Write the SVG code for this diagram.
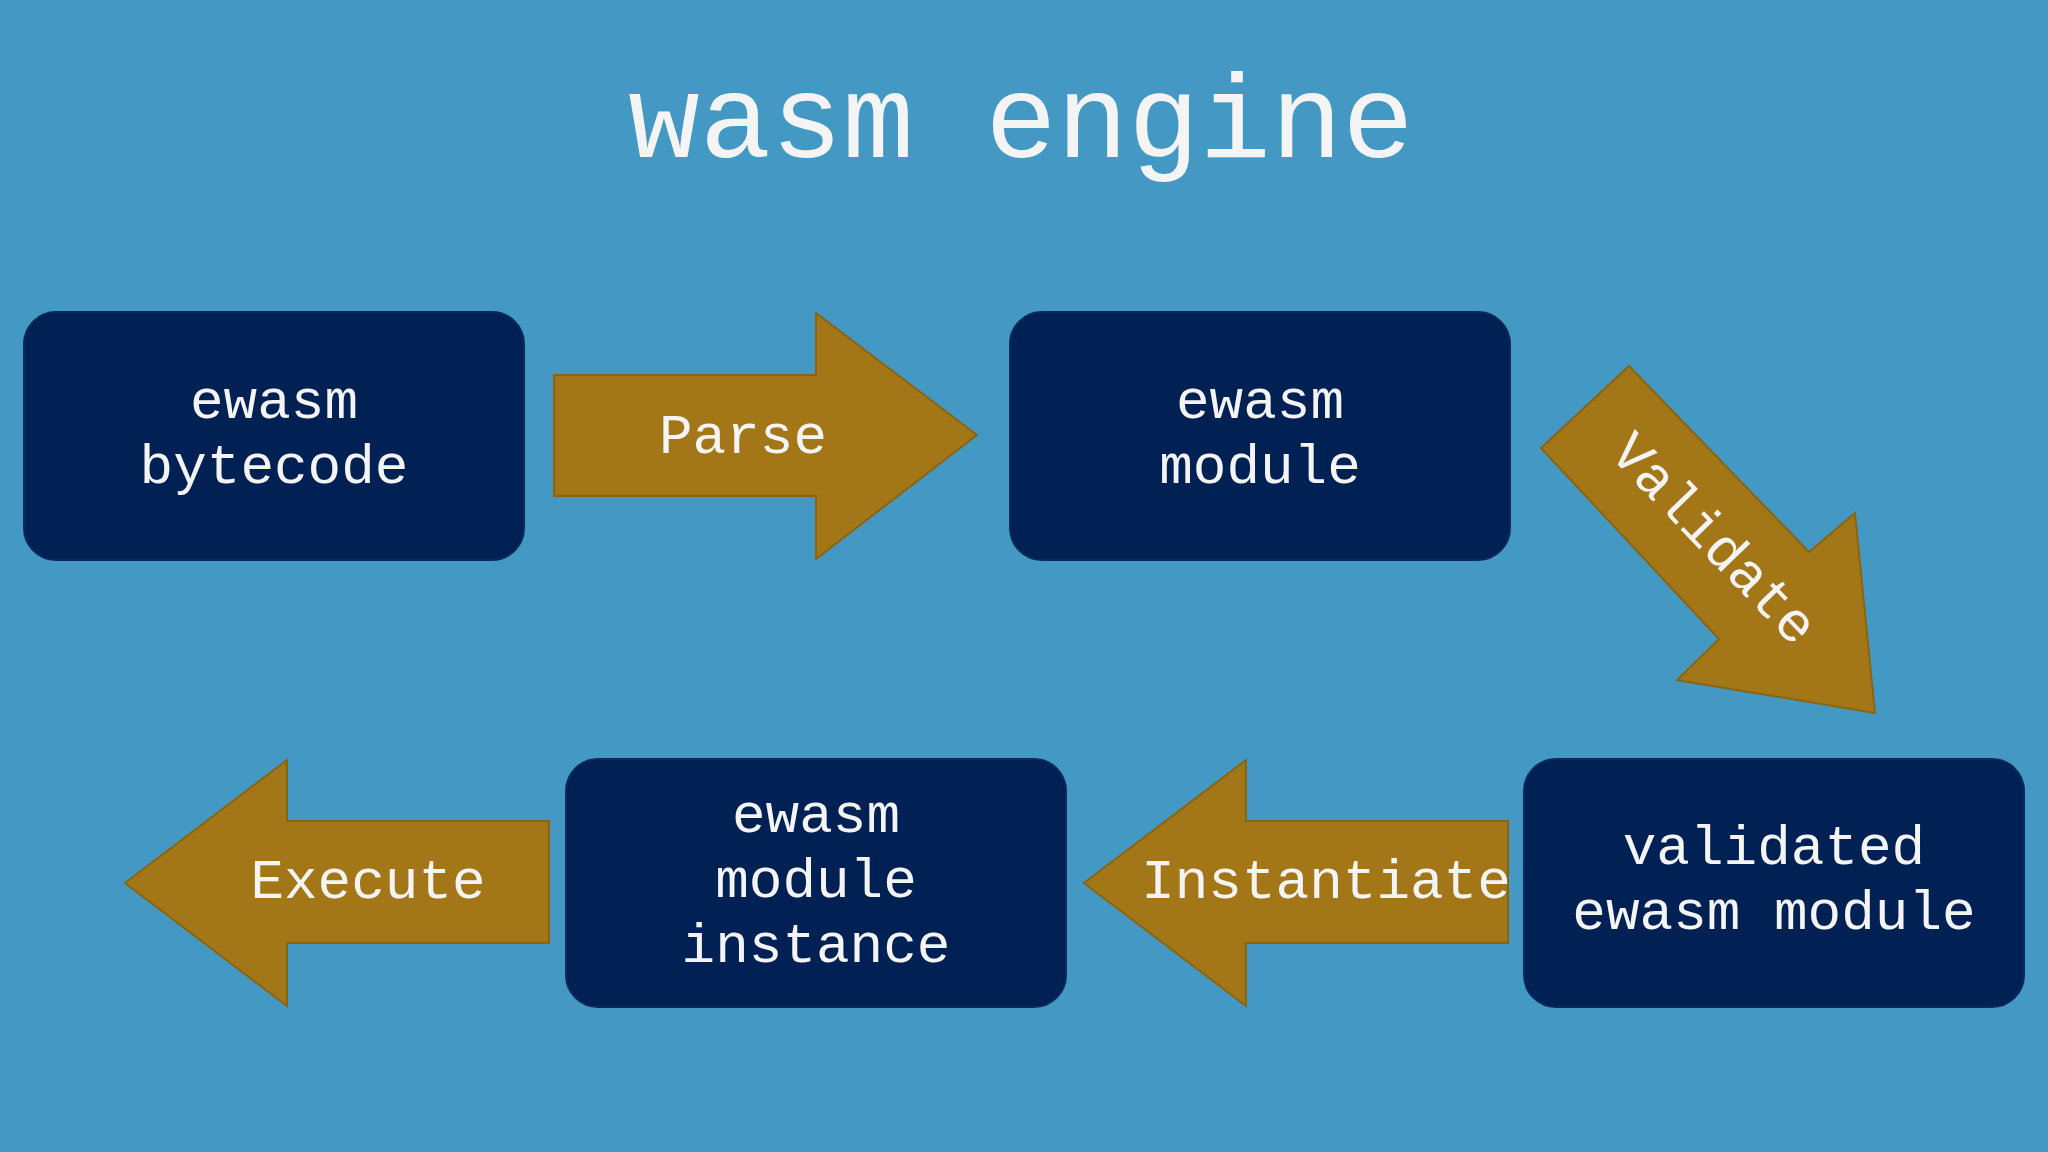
<svg xmlns="http://www.w3.org/2000/svg" width="2048" height="1152" viewBox="0 0 2048 1152">
<style>
.box{fill:#012154;stroke:#0a2a5a;stroke-width:2}
.arr{fill:#A37717;stroke:#8a6410;stroke-width:2}
text{font-family:"Liberation Mono","DejaVu Sans Mono",monospace;fill:#F4F4F4;text-anchor:middle}
.t{font-size:56px}
</style>
<rect width="2048" height="1152" fill="#4499C4"/>
<text x="1021" y="157" font-size="119">wasm engine</text>
<g id="connectors">
<g id="parse"><polygon class="arr" points="554,375 816,375 816,313 977,435 816,559 816,496 554,496"/><text class="t" x="743" y="453">Parse</text></g>
<g id="validate"><polygon class="arr" points="1541,448 1629,366 1809,552 1855,513 1875,713 1677,680 1719,639"/><text class="t" x="0" y="0" transform="translate(1715,538) rotate(46)" dy="19">Validate</text></g>
<g id="instantiate"><polygon class="arr" points="1508,821 1246,821 1246,760 1084,883 1246,1006 1246,943 1508,943"/><text class="t" x="1326" y="898">Instantiate</text></g>
<g id="execute"><polygon class="arr" points="549,821 287,821 287,760 125,883 287,1006 287,943 549,943"/><text class="t" x="368" y="898">Execute</text></g>
</g>
<g id="bytecode"><rect class="box" x="24" y="312" width="500" height="248" rx="32"/><text class="t" x="274" y="418">ewasm</text><text class="t" x="274" y="483">bytecode</text></g>
<g id="module"><rect class="box" x="1010" y="312" width="500" height="248" rx="32"/><text class="t" x="1260" y="418">ewasm</text><text class="t" x="1260" y="483">module</text></g>
<g id="validated"><rect class="box" x="1524" y="759" width="500" height="248" rx="32"/><text class="t" x="1774" y="864">validated</text><text class="t" x="1774" y="929">ewasm module</text></g>
<g id="instance"><rect class="box" x="566" y="759" width="500" height="248" rx="32"/><text class="t" x="816" y="832">ewasm</text><text class="t" x="816" y="897">module</text><text class="t" x="816" y="962">instance</text></g>
</svg>
